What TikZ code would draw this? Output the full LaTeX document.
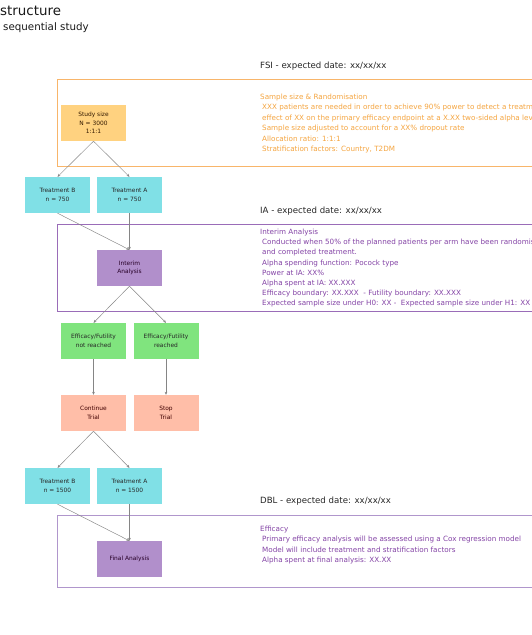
\documentclass[tikz,border=0pt]{standalone}
\usepackage{fontspec}
\setmainfont{DejaVu Sans}
\usetikzlibrary{arrows.meta}
\definecolor{cOrange}{HTML}{FFD280}
\definecolor{cOrangeLine}{HTML}{F8B56A}
\definecolor{cOrangeText}{HTML}{F5A540}
\definecolor{cCyan}{HTML}{80E0E6}
\definecolor{cPurple}{HTML}{B18FCB}
\definecolor{cPurpleLine}{HTML}{9A6CB8}
\definecolor{cPurpleLight}{HTML}{B096CC}
\definecolor{cPurpleText}{HTML}{8444A6}
\definecolor{cGreen}{HTML}{80E47E}
\definecolor{cSalmon}{HTML}{FFBEA8}
\definecolor{cArrow}{HTML}{858585}
\tikzset{
  box/.style={minimum width=65pt, minimum height=36pt, inner sep=0pt, align=center,
    font=\fontsize{5.9}{8.7}\selectfont},
  ssbox/.style={box, fill=cOrange, text=black!80!orange},
  trtbox/.style={box, fill=cCyan, text=black!85},
  anbox/.style={box, fill=cPurple, text=black!70!violet},
  effbox/.style={box, fill=cGreen, text=black!85},
  trialbox/.style={box, fill=cSalmon, text=black!75!red},
  conn/.style={draw=cArrow, line width=0.45pt, -{Stealth[length=3pt,width=2.6pt]}},
  header/.style={anchor=base west, inner sep=0pt, font=\fontsize{8.6}{10}\selectfont, text=black!85},
  body/.style={anchor=base west, inner sep=0pt, font=\fontsize{7.2}{9}\selectfont},
  phase/.style={line width=0.9pt},
}
\begin{document}
\begin{tikzpicture}[x=1pt,y=-1pt]
\useasboundingbox (0,0) rectangle (532,635);
\fill[white] (0,0) rectangle (532,635);
\clip (0,0) rectangle (532,635);

% titles
\node[anchor=base west, inner sep=0pt, font=\fontsize{13.4}{15}\selectfont, text=black!90] (title) at (0,15) {structure};
\node[anchor=base west, inner sep=0pt, font=\fontsize{10.3}{12}\selectfont, text=black!90] (subtitle) at (3,30.5) {sequential study};

% phase boxes
\draw[phase, draw=cOrangeLine] (57,79) rectangle (545,166);
\draw[phase, draw=cPurpleLine] (57,224) rectangle (545,311);
\draw[phase, draw=cPurpleLight] (57,515) rectangle (545,587);

% headers
\node[header] (hfsi) at (260,68) {FSI - expected date: xx/xx/xx};
\node[header] (hia) at (260,213) {IA - expected date: xx/xx/xx};
\node[header] (hdbl) at (260,503) {DBL - expected date: xx/xx/xx};

% FSI text
\foreach \t [count=\i] in {
  {Sample size \& Randomisation},
  {\hspace*{2pt}XXX patients are needed in order to achieve 90\% power to detect a treatment},
  {\hspace*{2pt}effect of XX on the primary efficacy endpoint at a X.XX two-sided alpha level},
  {\hspace*{2pt}Sample size adjusted to account for a XX\% dropout rate},
  {\hspace*{2pt}Allocation ratio: 1:1:1},
  {\hspace*{2pt}Stratification factors: Country, T2DM}}
  \node[body, text=cOrangeText] (fsi\i) at (260,{99.5+10.4*(\i-1)}) {\t};

% IA text
\foreach \t [count=\i] in {
  {Interim Analysis},
  {\hspace*{2pt}Conducted when 50\% of the planned patients per arm have been randomised},
  {\hspace*{2pt}and completed treatment.},
  {\hspace*{2pt}Alpha spending function: Pocock type},
  {\hspace*{2pt}Power at IA: XX\%},
  {\hspace*{2pt}Alpha spent at IA: XX.XXX},
  {\hspace*{2pt}Efficacy boundary: XX.XXX\ \ - Futility boundary: XX.XXX},
  {\hspace*{2pt}Expected sample size under H0: XX -\ \ Expected sample size under H1: XX}}
  \node[body, text=cPurpleText] (ia\i) at (260,{234.5+10.2*(\i-1)}) {\t};

% DBL text
\foreach \t [count=\i] in {
  {Efficacy},
  {\hspace*{2pt}Primary efficacy analysis will be assessed using a Cox regression model},
  {\hspace*{2pt}Model will include treatment and stratification factors},
  {\hspace*{2pt}Alpha spent at final analysis: XX.XX}}
  \node[body, text=cPurpleText] (dbl\i) at (260,{531.5+10.4*(\i-1)}) {\t};

% flow nodes
\node[ssbox] (ss) at (93.5,123) {Study size\\N = 3000\\1:1:1};
\node[trtbox] (tb1) at (57.5,195) {Treatment B\\n = 750};
\node[trtbox] (ta1) at (129.5,195) {Treatment A\\n = 750};
\node[anbox] (ia) at (129.5,268) {Interim\\Analysis};
\node[effbox] (efn) at (93.5,341) {Efficacy/Futility\\not reached};
\node[effbox] (efr) at (166,341) {Efficacy/Futility\\reached};
\node[trialbox] (cont) at (93.5,413) {Continue\\Trial};
\node[trialbox] (stop) at (166,413) {Stop\\Trial};
\node[trtbox] (tb2) at (57.5,486) {Treatment B\\n = 1500};
\node[trtbox] (ta2) at (129.5,486) {Treatment A\\n = 1500};
\node[anbox] (fa) at (129.5,559) {Final Analysis};

% connectors
\draw[conn] (ss.south) -- (tb1.north);
\draw[conn] (ss.south) -- (ta1.north);
\draw[conn] (tb1.south) -- (ia.north);
\draw[conn] (ta1.south) -- (ia.north);
\draw[conn] (ia.south) -- (efn.north);
\draw[conn] (ia.south) -- (efr.north);
\draw[conn] (efn.south) -- (cont.north);
\draw[conn] (efr.south) -- (stop.north);
\draw[conn] (cont.south) -- (tb2.north);
\draw[conn] (cont.south) -- (ta2.north);
\draw[conn] (tb2.south) -- (fa.north);
\draw[conn] (ta2.south) -- (fa.north);
\end{tikzpicture}
\end{document}
